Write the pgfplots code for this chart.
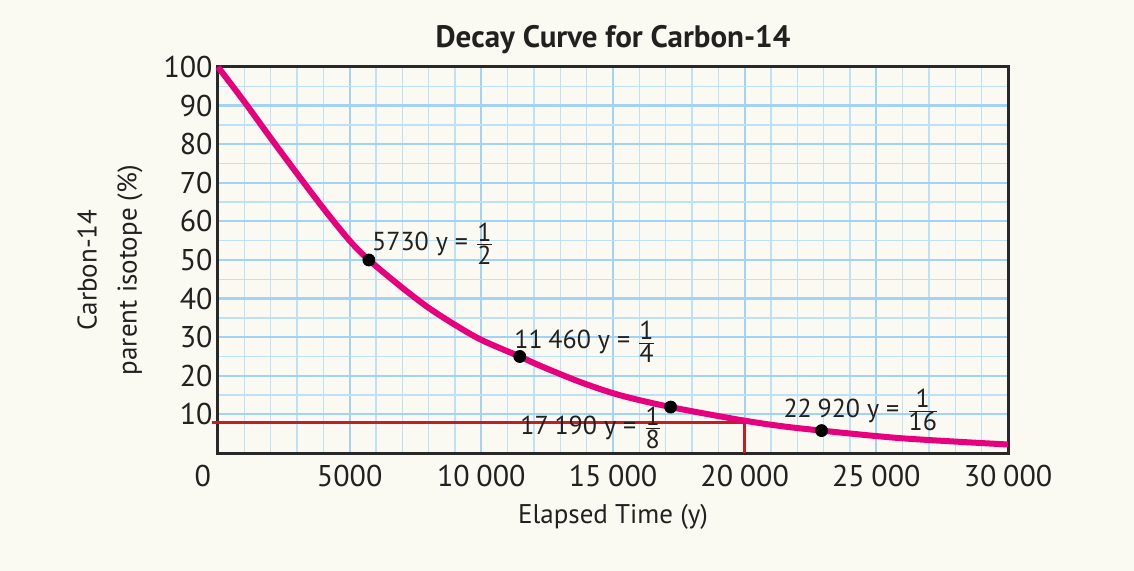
\documentclass[border=0pt]{standalone}
\usepackage{fontspec}
\setmainfont{PT Sans}
\usepackage{pgfplots}
\usepackage{pgfplotstable}
\pgfplotsset{compat=1.18}

\definecolor{bgcol}{RGB}{250,250,242}
\definecolor{gridmaj}{RGB}{162,210,244}
\definecolor{gridmin}{RGB}{188,225,249}
\definecolor{curvecol}{RGB}{230,0,126}
\definecolor{redline}{RGB}{196,30,36}
\definecolor{framecol}{RGB}{40,40,40}
\definecolor{txt}{RGB}{35,32,32}

% fraction with text-size digits
\newcommand{\fr}[1]{$\frac{\mbox{1}}{\mbox{#1}}$}

% decay curve
\pgfplotstableread{
t p
0 100
1000 91
2000 81.6
3000 72.4
4000 63.4
5000 55
5730 50
7000 42.8
8000 37.6
9000 33.2
10000 29.3
11460 25
12200 22.7
13750 18.4
15250 15
17190 11.9
19800 8.6
21350 7.0
22920 5.8
26000 3.8
30000 2.2
}\curvedata

\begin{document}
\begin{tikzpicture}
\fill[bgcol] (0,0) rectangle (567bp,285.5bp);
\path[use as bounding box] (0,0) rectangle (567bp,285.5bp);
\begin{axis}[
  at={(109bp,59bp)}, anchor=south west,
  scale only axis, width=395bp, height=193bp,
  xmin=0, xmax=30000, ymin=0, ymax=100,
  scaled x ticks=false,
  xtick={0,5000,...,30000},
  xticklabels={{\makebox[0pt][r]{0\kern3.5bp}},5000,10\:000,15\:000,20\:000,25\:000,30\:000},
  ytick={10,20,...,100},
  yticklabels={10,20,30,40,50,60,70,80,90,100},
  minor x tick num=4, minor y tick num=1,
  grid=both,
  major grid style={gridmaj, line width=1.1bp},
  minor grid style={gridmin, line width=0.7bp},
  major tick length=0, minor tick length=0,
  axis line style={framecol, line width=1.5bp},
  axis background/.style={fill=bgcol},
  tick label style={font=\fontsize{15bp}{17bp}\selectfont, text=txt},
  xticklabel style={inner sep=0pt, anchor=north, yshift=-6bp},
  yticklabel style={inner sep=0pt, anchor=east, xshift=-2.5bp},
  title={\textbf{Decay Curve for Carbon-14}},
  every axis title/.style={font=\fontsize{15.5bp}{18bp}\selectfont, text=txt,
    at={(axis description cs:0.5,1.07)}, anchor=center},
  xlabel={Elapsed Time (y)},
  every axis x label/.style={font=\fontsize{13.5bp}{16bp}\selectfont, text=txt,
    at={(axis description cs:0.5,-0.1658)}, anchor=center},
  ylabel={Carbon-14\\parent isotope (\%)},
  every axis y label/.style={font=\fontsize{13.5bp}{20bp}\selectfont, text=txt,
    align=center, rotate=90,
    at={(axis description cs:-0.1367,0.474)}, anchor=center},
  clip=false,
]
\addplot[redline, line width=1.4bp] coordinates {(-220,7.8) (20000,7.8) (20000,0)};
\addplot[curvecol, line width=3bp, smooth] table[x=t, y=p] {\curvedata};
\addplot[only marks, mark=*, mark size=3bp, black]
  coordinates {(5730,50) (11460,25) (17190,11.9) (22920,5.8)};
\begin{scope}[every node/.style={anchor=west, inner sep=0pt, text=txt,
    font=\fontsize{13bp}{15bp}\selectfont}]
\node at (axis cs:5840,54.3) {5730 y = \fr{2}};
\node at (axis cs:11240,28.8) {11\:460 y = \fr{4}};
\node at (axis cs:11470,6.5) {17\:190 y = \fr{8}};
\node at (axis cs:21460,11.1) {22\:920 y = \fr{16}};
\end{scope}
\end{axis}
\end{tikzpicture}
\end{document}
